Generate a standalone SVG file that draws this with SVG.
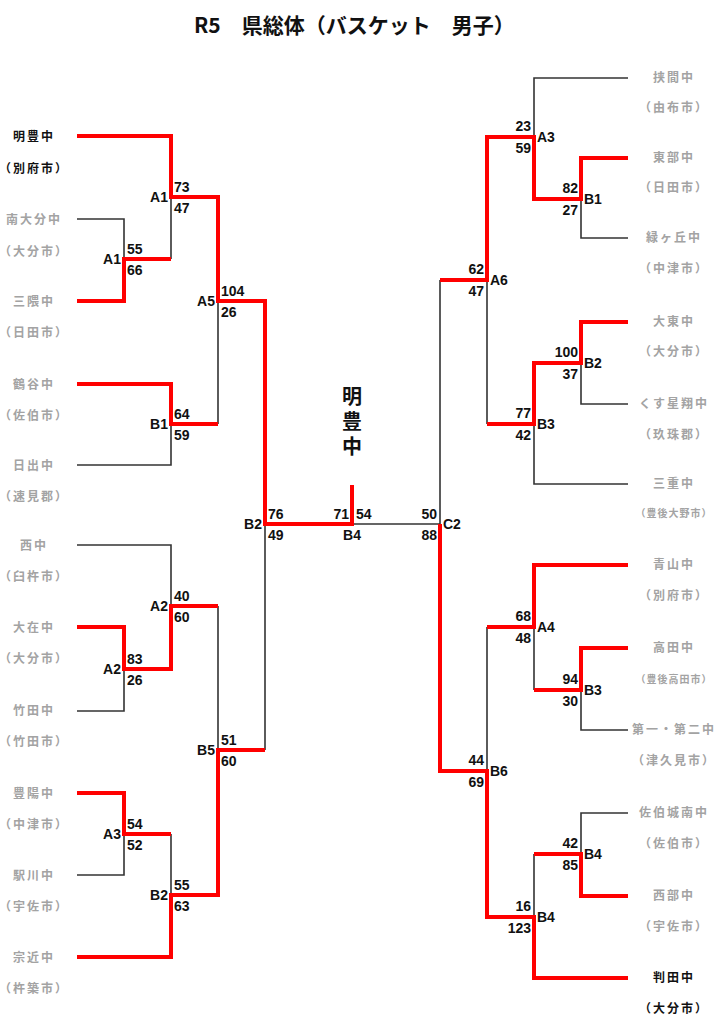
<svg xmlns="http://www.w3.org/2000/svg" width="722" height="1024" viewBox="0 0 722 1024">
<style>
.bg{fill:#ffffff}
.title{font-family:"Noto Sans CJK JP","Liberation Sans",sans-serif;font-size:21px;font-weight:bold;fill:#111}
.team{font-family:"Noto Sans CJK JP",sans-serif;font-size:12px;font-weight:bold;fill:#a3a3a3;letter-spacing:2px;text-anchor:middle}
.win{fill:#111}
.sm{font-size:10px;letter-spacing:1px}
.sc{font-family:"Liberation Sans Narrow","Liberation Sans",sans-serif;font-stretch:condensed;font-size:14px;font-weight:bold;fill:#111}
.e{text-anchor:end}
.m{text-anchor:middle}
.lose{fill:none;stroke:#333;stroke-width:1.6}
.red{fill:none;stroke:#ff0000;stroke-width:4;stroke-linejoin:miter}
.champ{font-family:"Noto Sans CJK JP",sans-serif;font-size:20px;font-weight:bold;fill:#111;writing-mode:vertical-rl;letter-spacing:5px}
</style>
<rect class="bg" x="0" y="0" width="722" height="1024"/>
<text class="title" x="194" y="33">R5　県総体（バスケット　男子）</text>

<g id="connectors">
<g id="lines-black">
<polyline class="lose" points="77,219 124,219 124,259"/>
<polyline class="lose" points="171,259 171,197"/>
<polyline class="lose" points="77,465 171,465 171,424"/>
<polyline class="lose" points="218,424 218,301"/>
<polyline class="lose" points="77,545 171,545 171,606"/>
<polyline class="lose" points="77,711 124,711 124,669"/>
<polyline class="lose" points="218,606 218,750"/>
<polyline class="lose" points="77,875 124,875 124,834"/>
<polyline class="lose" points="171,834 171,895"/>
<polyline class="lose" points="265,750 265,524"/>
<polyline class="lose" points="628,78 534,78 534,137"/>
<polyline class="lose" points="628,238 581,238 581,199"/>
<polyline class="lose" points="628,404 581,404 581,363"/>
<polyline class="lose" points="628,484 534,484 534,424"/>
<polyline class="lose" points="487,424 487,280"/>
<polyline class="lose" points="440,280 440,524 352,524"/>
<polyline class="lose" points="628,730 581,730 581,690"/>
<polyline class="lose" points="534,690 534,627"/>
<polyline class="lose" points="487,627 487,771"/>
<polyline class="lose" points="628,813 581,813 581,854"/>
<polyline class="lose" points="534,854 534,917"/>
</g>
<g id="lines-red">
<polyline class="red" points="77,136 171,136 171,197 218,197 218,301 265,301 265,524 352,524 352,485"/>
<polyline class="red" points="77,301 124,301 124,259 171,259"/>
<polyline class="red" points="77,384 171,384 171,424 218,424"/>
<polyline class="red" points="77,627 124,627 124,669 171,669 171,606 218,606"/>
<polyline class="red" points="77,793 124,793 124,834 171,834"/>
<polyline class="red" points="77,957 171,957 171,895 218,895 218,750 265,750"/>
<polyline class="red" points="628,158 581,158 581,199 534,199 534,137 487,137 487,280 440,280"/>
<polyline class="red" points="628,322 581,322 581,363 534,363 534,424 487,424"/>
<polyline class="red" points="628,565 534,565 534,627 487,627"/>
<polyline class="red" points="628,648 581,648 581,690 534,690"/>
<polyline class="red" points="628,896 581,896 581,854 534,854"/>
<polyline class="red" points="628,978 534,978 534,917 487,917 487,771 440,771 440,524"/>
</g>
</g>

<g id="teams-left">
<g id="t-meiho"><text class="team win" x="34" y="141">明豊中</text><text class="team win" x="34" y="173">（別府市）</text></g>
<g id="t-minamioita"><text class="team" x="34" y="224">南大分中</text><text class="team" x="34" y="256">（大分市）</text></g>
<g id="t-mikuma"><text class="team" x="34" y="306">三隈中</text><text class="team" x="34" y="337">（日田市）</text></g>
<g id="t-tsurugaya"><text class="team" x="34" y="389">鶴谷中</text><text class="team" x="34" y="420">（佐伯市）</text></g>
<g id="t-hiji"><text class="team" x="34" y="470">日出中</text><text class="team" x="34" y="501">（速見郡）</text></g>
<g id="t-nishi"><text class="team" x="34" y="550">西中</text><text class="team" x="34" y="581">（臼杵市）</text></g>
<g id="t-ozai"><text class="team" x="34" y="632">大在中</text><text class="team" x="34" y="663">（大分市）</text></g>
<g id="t-taketa"><text class="team" x="34" y="715">竹田中</text><text class="team" x="34" y="746">（竹田市）</text></g>
<g id="t-hoyo"><text class="team" x="34" y="798">豊陽中</text><text class="team" x="34" y="829">（中津市）</text></g>
<g id="t-ekikawa"><text class="team" x="34" y="880">駅川中</text><text class="team" x="34" y="911">（宇佐市）</text></g>
<g id="t-munechika"><text class="team" x="34" y="962">宗近中</text><text class="team" x="34" y="993">（杵築市）</text></g>
</g>

<g id="teams-right">
<g id="t-hasama"><text class="team" x="674" y="82">挟間中</text><text class="team" x="674" y="112">（由布市）</text></g>
<g id="t-tobu"><text class="team" x="674" y="162">東部中</text><text class="team" x="674" y="192">（日田市）</text></g>
<g id="t-midorigaoka"><text class="team" x="674" y="242">緑ヶ丘中</text><text class="team" x="674" y="273">（中津市）</text></g>
<g id="t-daito"><text class="team" x="674" y="326">大東中</text><text class="team" x="674" y="356">（大分市）</text></g>
<g id="t-kusu"><text class="team" x="674" y="408">くす星翔中</text><text class="team" x="674" y="439">（玖珠郡）</text></g>
<g id="t-mie"><text class="team" x="674" y="488">三重中</text><text class="team sm" x="674" y="517">（豊後大野市）</text></g>
<g id="t-aoyama"><text class="team" x="674" y="569">青山中</text><text class="team" x="674" y="600">（別府市）</text></g>
<g id="t-takada"><text class="team" x="674" y="652">高田中</text><text class="team sm" x="674" y="683">（豊後高田市）</text></g>
<g id="t-daiichi"><text class="team" x="674" y="734">第一・第二中</text><text class="team" x="674" y="765">（津久見市）</text></g>
<g id="t-saikijonan"><text class="team" x="674" y="817">佐伯城南中</text><text class="team" x="674" y="848">（佐伯市）</text></g>
<g id="t-seibu"><text class="team" x="674" y="900">西部中</text><text class="team" x="674" y="931">（宇佐市）</text></g>
<g id="t-handa"><text class="team win" x="674" y="982">判田中</text><text class="team win" x="674" y="1013">（大分市）</text></g>
</g>

<g id="champion"><text class="champ" x="352" y="386">明豊中</text></g>

<g id="scores-left">
<g id="mL-A1a"><text class="sc" x="127" y="254">55</text><text class="sc" x="127" y="275">66</text><text class="sc e" x="121" y="264">A1</text></g>
<g id="mL-A1b"><text class="sc" x="174" y="192">73</text><text class="sc" x="174" y="213">47</text><text class="sc e" x="168" y="202">A1</text></g>
<g id="mL-B1"><text class="sc" x="174" y="419">64</text><text class="sc" x="174" y="440">59</text><text class="sc e" x="168" y="429">B1</text></g>
<g id="mL-A5"><text class="sc" x="221" y="296">104</text><text class="sc" x="221" y="317">26</text><text class="sc e" x="215" y="306">A5</text></g>
<g id="mL-A2b"><text class="sc" x="174" y="601">40</text><text class="sc" x="174" y="622">60</text><text class="sc e" x="168" y="611">A2</text></g>
<g id="mL-A2a"><text class="sc" x="127" y="664">83</text><text class="sc" x="127" y="685">26</text><text class="sc e" x="121" y="674">A2</text></g>
<g id="mL-A3"><text class="sc" x="127" y="829">54</text><text class="sc" x="127" y="850">52</text><text class="sc e" x="121" y="839">A3</text></g>
<g id="mL-B2a"><text class="sc" x="174" y="890">55</text><text class="sc" x="174" y="911">63</text><text class="sc e" x="168" y="900">B2</text></g>
<g id="mL-B5"><text class="sc" x="221" y="745">51</text><text class="sc" x="221" y="766">60</text><text class="sc e" x="215" y="755">B5</text></g>
<g id="mL-B2b"><text class="sc" x="268" y="519">76</text><text class="sc" x="268" y="540">49</text><text class="sc e" x="262" y="529">B2</text></g>
<g id="m-final"><text class="sc e" x="349" y="519">71</text><text class="sc" x="356" y="519">54</text><text class="sc m" x="352" y="540">B4</text></g>
</g>

<g id="scores-right">
<g id="mR-B1"><text class="sc e" x="578" y="193">82</text><text class="sc e" x="578" y="215">27</text><text class="sc" x="584" y="204">B1</text></g>
<g id="mR-A3"><text class="sc e" x="531" y="131">23</text><text class="sc e" x="531" y="153">59</text><text class="sc" x="537" y="142">A3</text></g>
<g id="mR-B2"><text class="sc e" x="578" y="357">100</text><text class="sc e" x="578" y="379">37</text><text class="sc" x="584" y="368">B2</text></g>
<g id="mR-B3a"><text class="sc e" x="531" y="418">77</text><text class="sc e" x="531" y="440">42</text><text class="sc" x="537" y="429">B3</text></g>
<g id="mR-A6"><text class="sc e" x="484" y="274">62</text><text class="sc e" x="484" y="296">47</text><text class="sc" x="490" y="285">A6</text></g>
<g id="mR-B3b"><text class="sc e" x="578" y="684">94</text><text class="sc e" x="578" y="706">30</text><text class="sc" x="584" y="695">B3</text></g>
<g id="mR-A4"><text class="sc e" x="531" y="621">68</text><text class="sc e" x="531" y="643">48</text><text class="sc" x="537" y="632">A4</text></g>
<g id="mR-B4a"><text class="sc e" x="578" y="848">42</text><text class="sc e" x="578" y="870">85</text><text class="sc" x="584" y="859">B4</text></g>
<g id="mR-B4b"><text class="sc e" x="531" y="911">16</text><text class="sc e" x="531" y="933">123</text><text class="sc" x="537" y="922">B4</text></g>
<g id="mR-B6"><text class="sc e" x="484" y="765">44</text><text class="sc e" x="484" y="787">69</text><text class="sc" x="490" y="776">B6</text></g>
<g id="mR-C2"><text class="sc e" x="437" y="519">50</text><text class="sc e" x="437" y="540">88</text><text class="sc" x="443" y="529">C2</text></g>
</g>
</svg>
